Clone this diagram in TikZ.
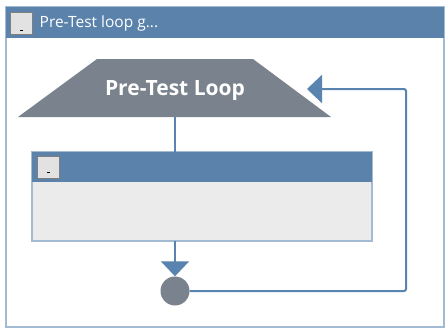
\documentclass[tikz,border=0pt]{standalone}
\usepackage{fontspec}
\setmainfont{Open Sans}
\usetikzlibrary{arrows.meta}
\definecolor{hdrblue}{HTML}{5A82AB}
\definecolor{lineblue}{HTML}{5A84B0}
\definecolor{framebl}{HTML}{A3BAD3}
\definecolor{shapegray}{HTML}{7A838D}
\definecolor{boxfill}{HTML}{EBEBEB}
\definecolor{togfill}{HTML}{E2E2E2}
\definecolor{togedge}{HTML}{7F7F7F}
\tikzset{
  conn/.style={draw=lineblue, line width=2pt, rounded corners=2pt},
  toggle/.style={draw=togedge, fill=togfill, line width=0.8pt},
  tipA/.style={-{Triangle[length=15pt,width=28pt]}}
}
\begin{document}
\begin{tikzpicture}[x=1pt,y=-1pt]
\useasboundingbox (0,0) rectangle (448,332);
\fill[white] (0,0) rectangle (448,332);
% outer frame
\draw[framebl, line width=1.2pt, fill=white] (6,7) rectangle (444,327);
\fill[hdrblue] (6,7) rectangle (444,38);
\draw[toggle] (10.5,12.5) rectangle (32.5,34);
\draw[black, line width=1pt] (20,30) -- (23,30);
\node[anchor=west, text=white, font=\fontsize{15.5}{17}\selectfont, inner sep=0pt] (title) at (39.5,23) {Pre-Test loop g...};
% trapezoid
\path[fill=shapegray] (97,59) -- (253,59) -- (331,117) -- (18,117) -- cycle;
\coordinate (trapB) at (175,117);
\coordinate (trapR) at (307,89);
\node[text=white, font=\bfseries\fontsize{21}{24}\selectfont, inner sep=0pt] (loop) at (175,90.5) {Pre-Test Loop};
% inner box
\draw[framebl, line width=1.2pt, fill=boxfill] (32,152) rectangle (372,241);
\fill[hdrblue] (32,152) rectangle (372,182);
\draw[toggle] (37.5,156.5) rectangle (59,178);
\draw[black, line width=1pt] (47,172) -- (50,172);
\coordinate (boxT) at (175,152);
\coordinate (boxB) at (175,241);
% end circle
\node[circle, fill=shapegray, minimum size=29pt, inner sep=0pt] (endc) at (175,291) {};
% connectors
\draw[conn] (trapB) -- (boxT);
\draw[conn, tipA] (boxB) -- (endc.north);
\draw[conn, tipA] (endc.east) -- (406,291) -- (406,89) -- (trapR);
\end{tikzpicture}
\end{document}
